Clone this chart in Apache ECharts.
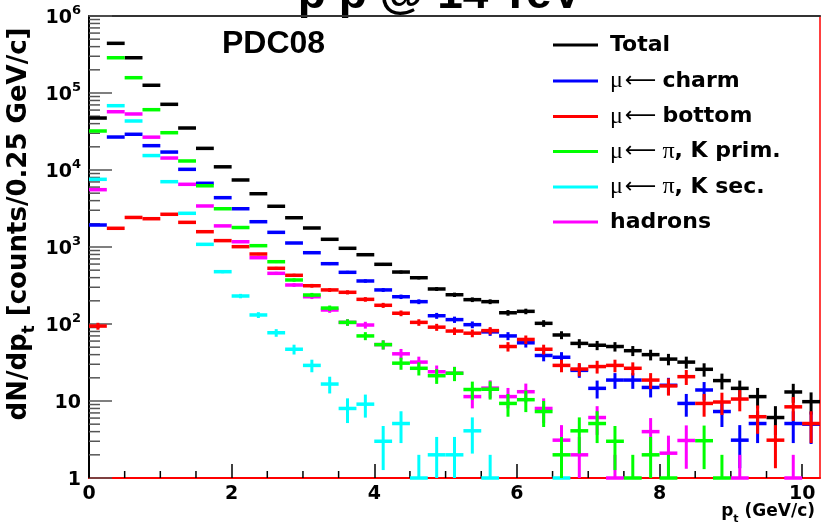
<!DOCTYPE html>
<html><head><meta charset="utf-8">
<script src="https://cdn.jsdelivr.net/npm/echarts@6/dist/echarts.min.js"></script>
<style>html,body{margin:0;padding:0;background:#fff}#c{width:821px;height:527px}</style>
</head><body><div id="c"></div>
<script>
// ---- data: counts per 0.25 GeV/c bin, bins start at 0 ----
const binWidth = 0.25;
const total   = [47300,441700,287000,126000,71300,35100,19100,11000,7420,4920,3380,2400,1765,1259,962,794,596,473,399,285,240,207,195,140,146,102,72,56,53,51,45,40,35,32,25.8,18.4,14.6,11.4,6.1,13.1,9.8];
const charm   = [1930,26800,29100,20700,17100,10200,6720,4370,3140,2130,1550,1127,843,607,469,362,277,226,195,128,114,98,79,70,57,39,37,25,14.6,18.7,18.7,15,16,9.3,13.9,7.3,3.1,5.1,0,5.1,5];
const bottom  = [94,1750,2420,2330,2660,2090,1580,1210,1010,811,529,429,314,277,258,209,175,138,105,91,81,76,82,51,63,47,29,26,28,29,26.6,18.7,15.7,20.7,9.3,9.7,10.6,6.25,3.1,8.4,5.1];
const piKprim = [32100,287000,158000,60700,30500,13100,6240,3140,1790,1040,644,373,238,161,105,70,54,31,26.6,21.3,22.9,14.1,14.2,9.3,10.4,7.3,2,4.1,5.1,3,1,2,1,0,3.05,1,0,0,0,0,0];
const piKsec  = [7570,68400,43300,15400,7050,2740,1083,478,231,131,77,47,29,16.6,8,9.1,3,5.1,1,2,2,4.1,1,0,0,0,1,0,0,0,0,0,0,0,0,0,0,0,0,0,0];
const hadrons = [5550,57100,53400,26700,14300,6520,3410,1880,1170,726,455,321,226,152,105,97,54,41,32,24,23,11.4,14.7,11.4,13.2,8,3.1,2,6.1,1,0,4,2.1,3.07,0,0,1,0,0,1,0];

const xTickValues = [0,2,4,6,8,10];
const yMin = 1, yMax = 1e6;
const xMin = 0, xMax = 10.25;

// ---- style ----
const FONT = 'DejaVu Sans';
const colors = {total:'#000000', charm:'#0000ff', bottom:'#ff0000', prim:'#00ff00', sec:'#00ffff', had:'#ff00ff'};

function toData(arr){
  const out = [];
  arr.forEach((v,i)=>{ if(v>0) out.push([(i+0.5)*binWidth, v]); });
  return out;
}
function histRender(color){
  return function(params, api){
    const x = api.value(0), v = api.value(1);
    const h = binWidth/2;
    const pL = api.coord([x-h, v]);
    const pR = api.coord([x+h, v]);
    const err = Math.sqrt(v);
    const pLo = api.coord([x, Math.max(v-err, yMin)]);
    const pHi = api.coord([x, v+err]);
    return {type:'group', children:[
      {type:'line', shape:{x1:pLo[0],y1:pLo[1],x2:pHi[0],y2:pHi[1]}, style:{stroke:color,lineWidth:3}},
      {type:'line', shape:{x1:pL[0],y1:pL[1],x2:pR[0],y2:pR[1]}, style:{stroke:color,lineWidth:3.5}}
    ]};
  };
}
function histSeries(name, arr, color, z){
  return {type:'custom', name, data:toData(arr), renderItem:histRender(color),
    encode:{x:0,y:1}, clip:false, silent:true, z};
}

// minor tick positions (axis decoration)
const yMinor = [];
for(let e=0;e<6;e++) for(let m=2;m<=9;m++) yMinor.push([0, m*Math.pow(10,e)]);
const xMinor = [];
for(let k=1;k<=20;k++){ const v=k*0.5; if(v%2!==0) xMinor.push([v, yMin]); }

const chart = echarts.init(document.getElementById('c'), null, {renderer:'canvas'});
const option = {
  backgroundColor:'#ffffff',
  animation:false,
  grid:{left:89, right:1, top:16, bottom:49, show:false},
  xAxis:[{
    type:'value', min:xMin, max:xMax, position:'bottom',
    axisLine:{show:true, lineStyle:{color:'#ff0000', width:2}},
    axisTick:{show:true, inside:true, length:14, customValues:xTickValues, lineStyle:{color:'#000', width:1.5}},
    axisLabel:{customValues:xTickValues, margin:7, color:'#000', fontFamily:FONT, fontWeight:'bold', fontSize:19},
    splitLine:{show:false}
  },{
    type:'value', min:xMin, max:xMax, position:'top',
    axisLine:{show:true, onZero:false, lineStyle:{color:'#333', width:2}},
    axisTick:{show:false}, axisLabel:{show:false}, splitLine:{show:false}
  }],
  yAxis:[{
    type:'log', min:yMin, max:yMax, logBase:10, splitNumber:6, position:'left',
    axisLine:{show:true, lineStyle:{color:'#000', width:2}},
    axisTick:{show:true, inside:true, length:23, lineStyle:{color:'#555', width:1.5}},
    axisLabel:{margin:8, color:'#000', fontFamily:FONT, fontWeight:'bold', fontSize:19,
      formatter:function(v){
        const e = Math.round(Math.log10(v));
        if(e>=2) return '{b|10}{s|'+e+'}';
        return '{b|'+Math.round(v)+'}';
      },
      rich:{
        b:{fontFamily:FONT, fontWeight:'bold', fontSize:19, lineHeight:24, verticalAlign:'bottom'},
        s:{fontFamily:FONT, fontWeight:'bold', fontSize:13, lineHeight:24, verticalAlign:'top'}
      }},
    splitLine:{show:false}
  },{
    type:'log', min:yMin, max:yMax, logBase:10, position:'right',
    axisLine:{show:true, onZero:false, lineStyle:{color:'#ff0000', width:1.5}},
    axisTick:{show:false}, axisLabel:{show:false}, splitLine:{show:false}
  }],
  series:[
    {type:'custom', name:'yminor', data:yMinor, encode:{x:0,y:1}, silent:true, z:1,
      renderItem:function(p,api){ const c=api.coord([api.value(0),api.value(1)]);
        return {type:'line', shape:{x1:c[0],y1:c[1],x2:c[0]+11,y2:c[1]}, style:{stroke:'#555',lineWidth:1.5}}; }},
    {type:'custom', name:'xminor', data:xMinor, encode:{x:0,y:1}, silent:true, z:1,
      renderItem:function(p,api){ const c=api.coord([api.value(0),api.value(1)]);
        return {type:'line', shape:{x1:c[0],y1:c[1],x2:c[0],y2:c[1]-7}, style:{stroke:'#000',lineWidth:1.5}}; }},
    histSeries('Total', total, colors.total, 2),
    histSeries('charm', charm, colors.charm, 3),
    histSeries('bottom', bottom, colors.bottom, 4),
    histSeries('hadrons', hadrons, colors.had, 5),
    histSeries('sec', piKsec, colors.sec, 6),
    histSeries('prim', piKprim, colors.prim, 7)
  ],
  graphic:[]
};

// legend & annotations (layout)
const legendColors = [colors.total, colors.charm, colors.bottom, colors.prim, colors.sec, colors.had];
const legendRows = [45, 81, 116.5, 151.5, 187, 222];
const rich = {
  b:{fontFamily:FONT, fontWeight:'bold', fontSize:22, fill:'#000'},
  m:{fontFamily:'Liberation Serif', fontSize:24, fill:'#000'},
  a:{fontFamily:'DejaVu Sans', fontSize:22, fill:'#000', padding:[0,6,0,2]}
};
const legendTexts = [
  '{b|Total}',
  '{m|μ}{a|⟵}{b|charm}',
  '{m|μ}{a|⟵}{b|bottom}',
  '{m|μ}{a|⟵}{m|π}{b|, K prim.}',
  '{m|μ}{a|⟵}{m|π}{b|, K sec.}',
  '{b|hadrons}'
];
legendRows.forEach((y,i)=>{
  option.graphic.push({type:'line', shape:{x1:553,y1:y,x2:598,y2:y}, style:{stroke:legendColors[i], lineWidth:3}});
  option.graphic.push({type:'text', x:610, y:y, style:{text:legendTexts[i], rich, verticalAlign:'middle', align:'left'}});
});
option.graphic.push({type:'text', x:222, y:44, style:{text:'PDC08', fontFamily:'Liberation Sans', fontWeight:'bold', fontSize:32, fill:'#000', verticalAlign:'middle'}});
option.graphic.push({type:'text', x:440, y:18, style:{text:'p p @ 14 TeV', fontFamily:'Liberation Sans', fontWeight:'bold', fontSize:46, fill:'#000', align:'center', verticalAlign:'bottom'}});
option.graphic.push({type:'text', x:815, y:514, style:{text:'{b|p}{s|t}{b| (GeV/c)}', align:'right', verticalAlign:'middle',
  rich:{b:{fontFamily:FONT, fontWeight:'bold', fontSize:17, lineHeight:22, verticalAlign:'top'}, s:{fontFamily:FONT, fontWeight:'bold', fontSize:11, lineHeight:22, verticalAlign:'bottom'}}}});
option.graphic.push({type:'text', x:22, y:224, rotation:Math.PI/2, style:{text:'{b|dN/dp}{s|t}{b| [counts/0.25 GeV/c]}', align:'center', verticalAlign:'middle',
  rich:{b:{fontFamily:FONT, fontWeight:'bold', fontSize:26, lineHeight:32, verticalAlign:'top'}, s:{fontFamily:FONT, fontWeight:'bold', fontSize:17, lineHeight:32, verticalAlign:'bottom'}}}});

chart.setOption(option);
</script></body></html>
